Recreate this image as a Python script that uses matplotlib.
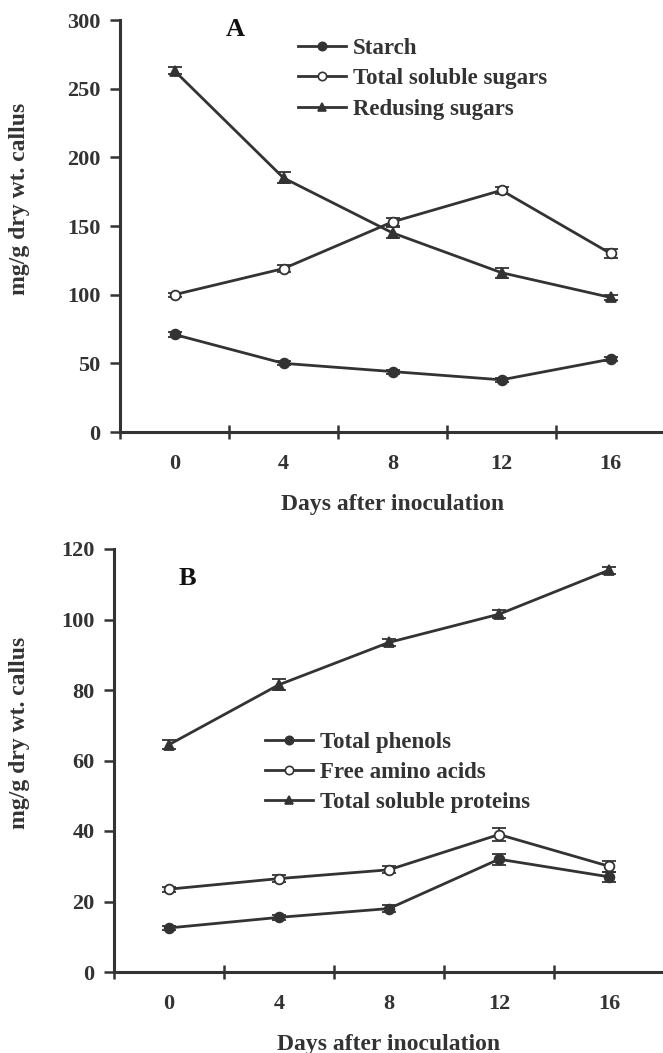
import matplotlib
matplotlib.use("Agg")
import matplotlib.pyplot as plt
from matplotlib.lines import Line2D
import numpy as np

plt.rcParams['font.family'] = ['Liberation Serif', 'DejaVu Serif']
plt.rcParams['font.weight'] = 'bold'
plt.rcParams['axes.labelweight'] = 'bold'

days = [0, 4, 8, 12, 16]

# panel A
starch = [71, 50, 44, 38, 53]
starch_err = [1.5, 1.5, 1.5, 1.5, 1.5]
sugars = [100, 119, 153, 176, 130]
sugars_err = [1.5, 2.5, 3, 2.5, 3.5]
reducing = [263, 185, 145, 116, 98]
reducing_err = [2.5, 4, 4, 3.5, 2]

# panel B
phenols = [12.5, 15.5, 18, 32, 27]
phenols_err = [0.6, 0.8, 1.0, 1.6, 1.5]
amino = [23.5, 26.5, 29, 39, 30]
amino_err = [0.7, 0.9, 1.0, 1.8, 1.5]
proteins = [64.5, 81.5, 93.5, 101.5, 114]
proteins_err = [1.3, 1.5, 1.0, 1.2, 1.0]

col = '#333333'
tick_fs = 16
lab_fs = 17
leg_fs = 16.5

fig = plt.figure(figsize=(6.63, 10.53), dpi=100)
axA = fig.add_axes([120 / 663, 1 - 432 / 1053, 545 / 663, 412 / 1053])
axB = fig.add_axes([114 / 663, 1 - 972 / 1053, 550 / 663, 423 / 1053])

pos = np.arange(len(days)) + 0.5


def series(ax, y, e, marker, face):
    ax.errorbar(pos, y, yerr=e, color=col, lw=2, marker=marker, ms=7,
                mfc=face, mec=col, mew=1.3, capsize=5, elinewidth=1.3,
                capthick=1.8)


def handles(labels):
    specs = [('o', col), ('o', 'white'), ('^', col)]
    return [Line2D([], [], color=col, lw=2, marker=m, ms=6, mfc=f, mec=col,
                   mew=1.2, label=l) for (m, f), l in zip(specs, labels)]


def style(ax, ymax, step, labx):
    ax.set_xlim(0, 5)
    ax.set_ylim(0, ymax)
    ax.set_yticks(np.arange(0, ymax + 1, step))
    ax.set_xticks([0, 1, 2, 3, 4, 5])
    ax.set_xticklabels([])
    ax.set_xticks(pos, minor=True)
    ax.set_xticklabels([str(d) for d in days], minor=True)
    ax.tick_params(axis='x', which='major', direction='inout', length=10,
                   width=1.8, color=col)
    ax.tick_params(axis='x', which='minor', length=0, pad=16,
                   labelsize=tick_fs, labelcolor=col)
    ax.tick_params(axis='y', direction='out', length=7, width=1.8,
                   color=col, labelsize=tick_fs, labelcolor=col, pad=7)
    for s in ['top', 'right']:
        ax.spines[s].set_visible(False)
    for s in ['left', 'bottom']:
        ax.spines[s].set_linewidth(2.2)
        ax.spines[s].set_color(col)
    ax.set_ylabel('mg/g dry wt. callus', fontsize=lab_fs, color=col)
    ax.yaxis.set_label_coords(labx, 0.565)
    ax.set_xlabel('Days after inoculation', fontsize=lab_fs, color=col,
                  labelpad=14)
    for lab in ax.get_xticklabels(minor=True) + ax.get_yticklabels():
        lab.set_fontweight('bold')


def legend(ax, labels, anchor):
    ax.legend(handles=handles(labels), loc='upper left', bbox_to_anchor=anchor,
              frameon=False, fontsize=leg_fs, handlelength=2.1,
              handletextpad=0.3, labelspacing=0.4, borderpad=0,
              borderaxespad=0, labelcolor=col)


series(axA, starch, starch_err, 'o', col)
series(axA, sugars, sugars_err, 'o', 'white')
series(axA, reducing, reducing_err, '^', col)
style(axA, 300, 50, -0.165)
axA.text(0.211, 0.976, 'A', transform=axA.transAxes, fontsize=19,
         fontweight='bold', ha='center', va='center', color='#111111')
legend(axA, ['Starch', 'Total soluble sugars', 'Redusing sugars'],
       (0.327, 0.956))

series(axB, phenols, phenols_err, 'o', col)
series(axB, amino, amino_err, 'o', 'white')
series(axB, proteins, proteins_err, '^', col)
style(axB, 120, 20, -0.153)
axB.text(0.133, 0.931, 'B', transform=axB.transAxes, fontsize=19,
         fontweight='bold', ha='center', va='center', color='#111111')
legend(axB, ['Total phenols', 'Free amino acids', 'Total soluble proteins'],
       (0.275, 0.568))

fig.savefig('out.png', dpi=100)
